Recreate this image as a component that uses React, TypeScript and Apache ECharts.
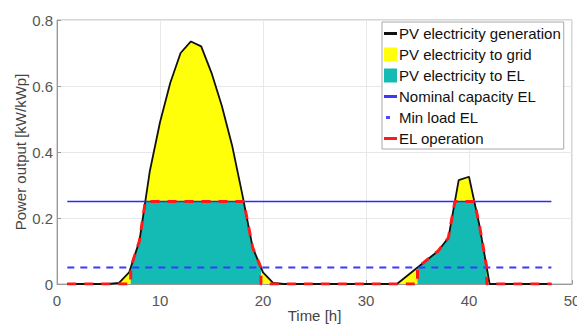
import React, { useEffect, useRef } from "react";
import * as echarts from "echarts";

// PV electricity generation per hour (hours 1..48), kW/kWp
const pvPower: number[] = [
  0, 0, 0, 0, 0, 0.003, 0.035, 0.13, 0.34, 0.49,
  0.61, 0.70, 0.735, 0.72, 0.64, 0.54, 0.42, 0.27, 0.11, 0.035,
  0.003, 0, 0, 0, 0, 0, 0, 0, 0, 0,
  0, 0, 0, 0.025, 0.05, 0.075, 0.10, 0.14, 0.315, 0.325,
  0.18, 0, 0, 0, 0, 0, 0, 0,
];
const firstHour = 1;
const nominalCapacity = 0.25;
const minLoad = 0.05;
const xTicks = [0, 50, 10];
const yTicks = [0, 0.8, 0.2];

const legendNames = [
  "PV electricity generation",
  "PV electricity to grid",
  "PV electricity to EL",
  "Nominal capacity EL",
  "Min load EL",
  "EL operation",
];

const lineIcon = "path://M0,6 L13,6 L13,9 L0,9 Z";
const dashIcon = "path://M0,6 L13,6 L13,6 Z M2,6 L6,6 L6,9 L2,9 Z M13,9 L13,9 L13,9 Z";

function buildPv(): number[][] {
  return pvPower.map((v, i) => [firstHour + i, v]);
}

function elValue(y: number): number {
  if (y < minLoad) return 0;
  return Math.min(y, nominalCapacity);
}

function buildEl(): number[][] {
  const pv = buildPv();
  const out: number[][] = [];
  for (let i = 0; i < pv.length; i++) {
    const [x1, y1] = pv[i];
    if (i > 0) {
      const [x0, y0] = pv[i - 1];
      const cross: { x: number; pts: number[][] }[] = [];
      const at = (lvl: number) => x0 + ((lvl - y0) / (y1 - y0)) * (x1 - x0);
      if (y0 < minLoad && y1 >= minLoad) {
        const xc = at(minLoad);
        cross.push({ x: xc, pts: [[xc, 0], [xc, minLoad]] });
      }
      if (y0 >= minLoad && y1 < minLoad) {
        const xc = at(minLoad);
        cross.push({ x: xc, pts: [[xc, minLoad], [xc, 0]] });
      }
      if ((y0 < nominalCapacity && y1 > nominalCapacity) || (y0 > nominalCapacity && y1 < nominalCapacity)) {
        const xc = at(nominalCapacity);
        cross.push({ x: xc, pts: [[xc, nominalCapacity]] });
      }
      cross.sort((a, b) => a.x - b.x);
      cross.forEach((c) => c.pts.forEach((p) => out.push(p)));
    }
    out.push([x1, elValue(y1)]);
  }
  return out;
}

export default function App() {
  const ref = useRef<HTMLDivElement>(null);
  useEffect(() => {
    if (!ref.current) return;
    const chart = echarts.init(ref.current, undefined, { renderer: "svg" });
    const pv = buildPv();
    const el = buildEl();
    const lastHour = firstHour + pvPower.length - 1;
    const font = "Liberation Sans, Arial, sans-serif";
    chart.setOption({
      animation: false,
      backgroundColor: "#ffffff",
      textStyle: { fontFamily: font },
      grid: {
        left: 57,
        right: 5,
        top: 20,
        bottom: 42,
        containLabel: false,
        outerBoundsMode: "none",
        show: true,
        borderColor: "#b0b0b0",
        borderWidth: 1,
      },
      legend: {
        orient: "vertical",
        left: 382,
        top: 22,
        backgroundColor: "#ffffff",
        borderColor: "#a8a8a8",
        borderWidth: 1,
        padding: [4, 3, 3, 2],
        itemWidth: 13,
        itemHeight: 14,
        itemGap: 6,
        textStyle: { fontSize: 15, lineHeight: 14, color: "#111", fontFamily: font, padding: [0, 0, 0, -3] },
        data: [
          { name: legendNames[0], icon: lineIcon, itemStyle: { color: "#111111" } },
          { name: legendNames[1], icon: "rect" },
          { name: legendNames[2], icon: "rect" },
          { name: legendNames[3], icon: lineIcon, itemStyle: { color: "#3a3aff" } },
          { name: legendNames[4], icon: dashIcon, itemStyle: { color: "#4a4aff" } },
          { name: legendNames[5], icon: lineIcon, itemStyle: { color: "#ff1a1a" } },
        ],
      },
      xAxis: {
        type: "value",
        min: xTicks[0],
        max: xTicks[1],
        interval: xTicks[2],
        name: "Time [h]",
        nameLocation: "middle",
        nameGap: 24,
        nameMoveOverlap: false,
        nameTextStyle: { fontSize: 15, color: "#444", fontFamily: font },
        axisLine: { show: true, lineStyle: { color: "#999" } },
        axisTick: { show: true, inside: true, length: 4, lineStyle: { color: "#999" } },
        axisLabel: { fontSize: 15, color: "#555", margin: 9, fontFamily: font },
        splitLine: { show: true, lineStyle: { color: "#e8e8e8" } },
      },
      yAxis: {
        type: "value",
        min: yTicks[0],
        max: yTicks[1],
        interval: yTicks[2],
        name: "Power output [kW/kWp]",
        nameLocation: "middle",
        nameRotate: 90,
        nameGap: 29,
        nameMoveOverlap: false,
        nameTextStyle: { fontSize: 15, color: "#444", fontFamily: font },
        axisLine: { show: true, lineStyle: { color: "#999" } },
        axisTick: { show: true, inside: true, length: 4, lineStyle: { color: "#999" } },
        axisLabel: { fontSize: 15, color: "#555", margin: 4, fontFamily: font },
        splitLine: { show: true, lineStyle: { color: "#e8e8e8" } },
      },
      series: [
        {
          name: legendNames[1],
          type: "line",
          data: pv,
          symbol: "none",
          itemStyle: { color: "#FFFF0A" },
          lineStyle: { width: 0, color: "#FFFF0A" },
          areaStyle: { color: "#FFFF0A", opacity: 1 },
          z: 1,
        },
        {
          name: legendNames[2],
          type: "line",
          data: el,
          symbol: "none",
          itemStyle: { color: "#14BBB4" },
          lineStyle: { width: 0, color: "#14BBB4" },
          areaStyle: { color: "#14BBB4", opacity: 1 },
          z: 2,
        },
        {
          name: legendNames[0],
          type: "line",
          data: pv,
          symbol: "none",
          itemStyle: { color: "#111111" },
          lineStyle: { width: 1.8, color: "#111111" },
          z: 3,
        },
        {
          name: legendNames[3],
          type: "line",
          data: [[firstHour, nominalCapacity], [lastHour, nominalCapacity]],
          symbol: "none",
          itemStyle: { color: "#2a2aff" },
          lineStyle: { width: 1.5, color: "#2a2aff" },
          z: 4,
        },
        {
          name: legendNames[4],
          type: "line",
          data: [[firstHour, minLoad], [lastHour, minLoad]],
          symbol: "none",
          itemStyle: { color: "#3a3aff" },
          lineStyle: { width: 2, color: "#3a3aff", type: [7, 6] },
          z: 4,
        },
        {
          name: legendNames[5],
          type: "line",
          data: el,
          symbol: "none",
          itemStyle: { color: "#ff1a1a" },
          lineStyle: { width: 3, color: "#ff1a1a", type: [9, 8] },
          z: 5,
        },
      ],
    });
    return () => chart.dispose();
  }, []);
  return (
    <div
      ref={ref}
      style={{ position: "fixed", left: 0, top: 0, width: 577, height: 326 }}
    />
  );
}
